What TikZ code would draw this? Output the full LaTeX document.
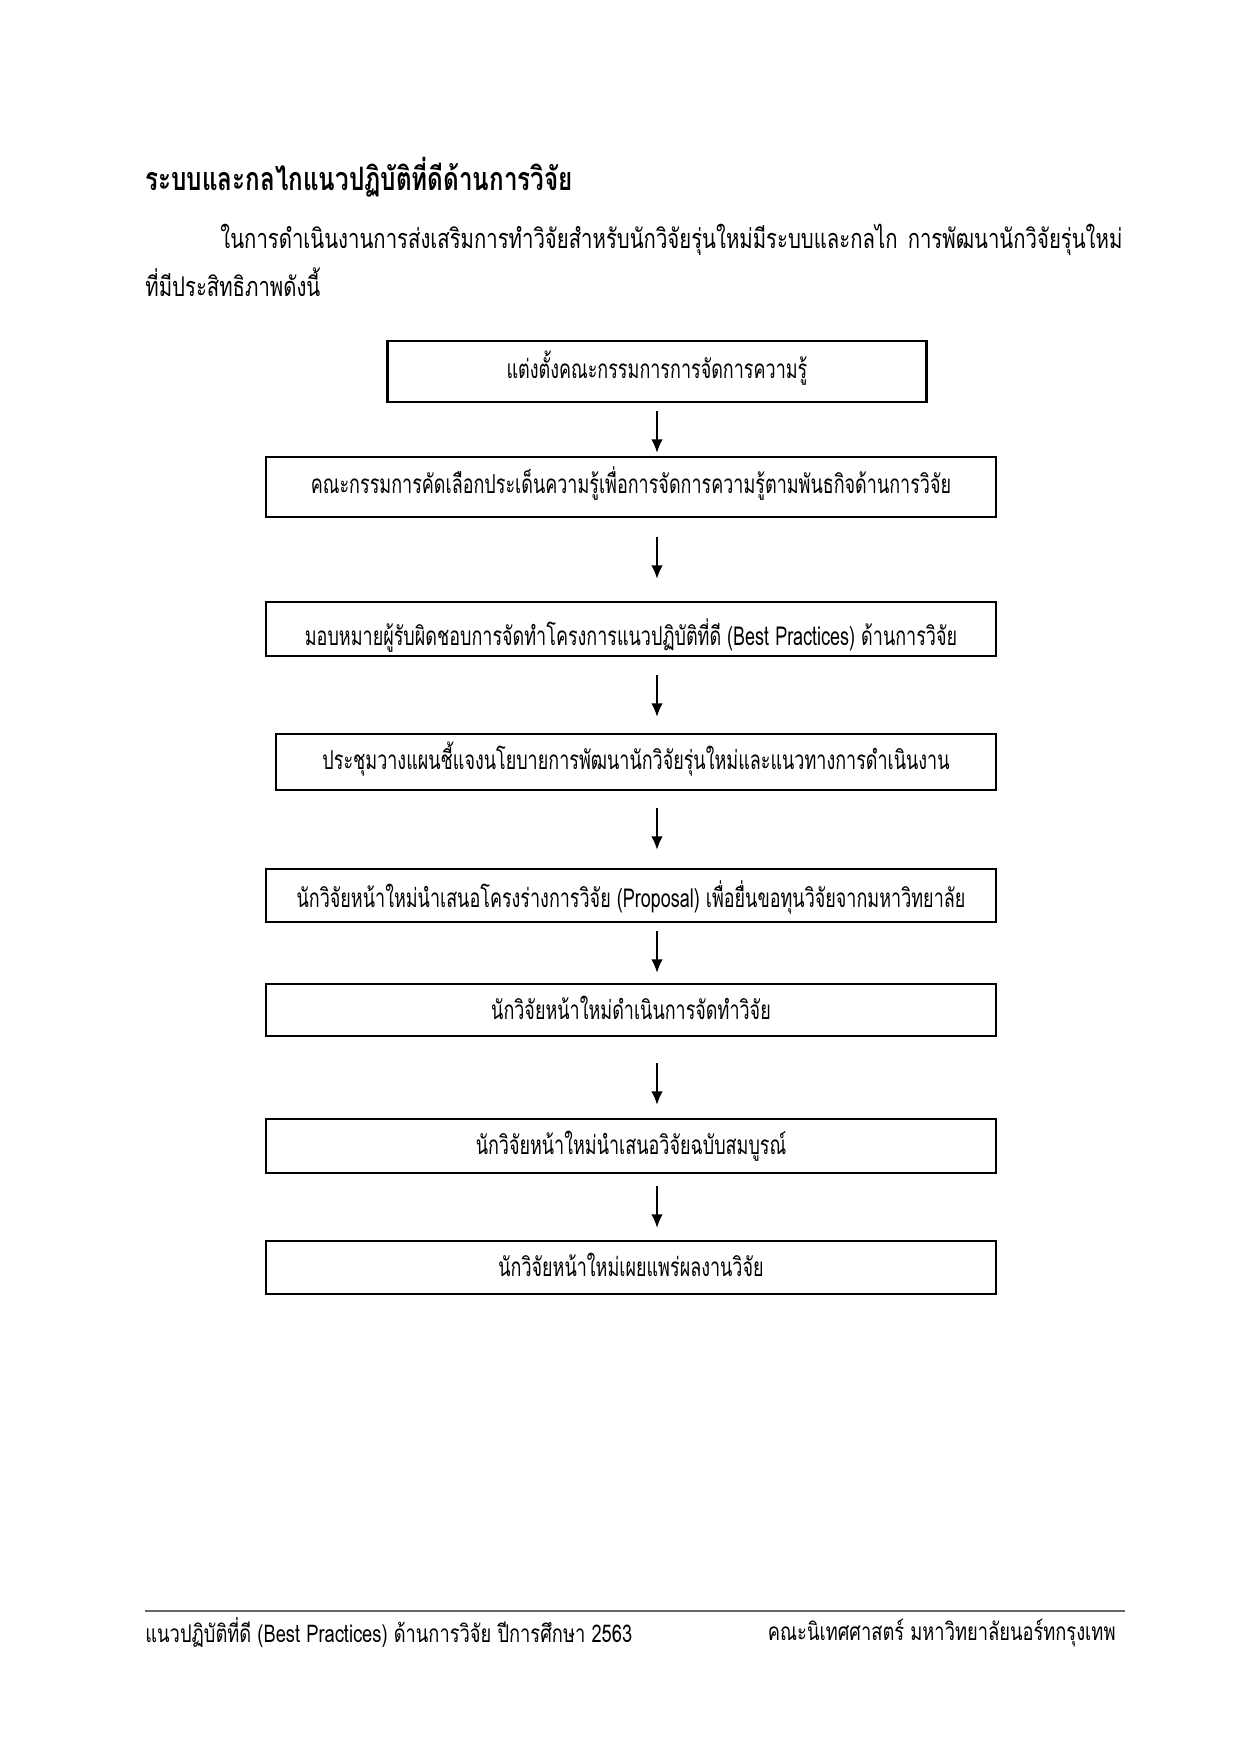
\documentclass[tikz,border=0pt]{standalone}
\usepackage{fontspec}
\newfontfamily\thaifont[Script=Thai,FakeStretch=0.75]{Loma}
\newfontfamily\thaiboxfont[Script=Thai,FakeStretch=0.69]{Loma}
\usetikzlibrary{arrows.meta, math}
\newcommand{\pxu}{0.47968pt}

\tikzset{
  stepbox/.style={draw, line width=1pt, inner sep=0pt, text height=11pt, text depth=4pt,
    minimum width=730*\pxu, font=\thaiboxfont\fontsize{12.5}{15}\selectfont},
  flowarrow/.style={-{Latex[length=6.5pt,width=5.5pt]}, line width=1pt},
}

\begin{document}
\begin{tikzpicture}[x=\pxu, y=-\pxu]
\tikzmath{
\ax=657;% arrow column
\al=42;% arrow length
}
\useasboundingbox (0,0) rectangle (1241,1755);

% heading and text
\node[anchor=west, inner sep=0pt, font=\thaifont\bfseries\fontsize{15.5}{19}\selectfont] (title) at (145,177) {ระบบและกลไกแนวปฏิบัติที่ดีด้านการวิจัย};
\node[anchor=west, inner sep=0pt, font=\thaifont\fontsize{13}{16}\selectfont] (para1) at (220,240)
  {\makebox[432.67pt][s]{ในการดำเนินงานการส่งเสริมการทำวิจัยสำหรับนักวิจัยรุ่นใหม่มีระบบและกลไก การพัฒนานักวิจัยรุ่นใหม่}};
\node[anchor=west, inner sep=0pt, font=\thaifont\fontsize{13}{16}\selectfont] (para2) at (145,282) {ที่มีประสิทธิภาพดังนี้};

% flow boxes
\node[stepbox, minimum width=539*\pxu, minimum height=61*\pxu] (b1) at (657,371.5) {แต่งตั้งคณะกรรมการการจัดการความรู้};
\node[stepbox, minimum height=60*\pxu, text height=10pt] (b2) at (631,487) {คณะกรรมการคัดเลือกประเด็นความรู้เพื่อการจัดการความรู้ตามพันธกิจด้านการวิจัย};
\node[stepbox, minimum height=54*\pxu, text height=19.5pt] (b3) at (631,629) {มอบหมายผู้รับผิดชอบการจัดทำโครงการแนวปฏิบัติที่ดี (Best Practices) ด้านการวิจัย};
\node[stepbox, minimum width=720*\pxu, minimum height=56*\pxu] (b4) at (636,762) {ประชุมวางแผนชี้แจงนโยบายการพัฒนานักวิจัยรุ่นใหม่และแนวทางการดำเนินงาน};
\node[stepbox, minimum height=53*\pxu, text height=15.5pt] (b5) at (631,895.5) {นักวิจัยหน้าใหม่นำเสนอโครงร่างการวิจัย (Proposal) เพื่อยื่นขอทุนวิจัยจากมหาวิทยาลัย};
\node[stepbox, minimum height=52*\pxu, text height=13pt] (b6) at (631,1010) {นักวิจัยหน้าใหม่ดำเนินการจัดทำวิจัย};
\node[stepbox, minimum height=54*\pxu, text height=12pt] (b7) at (631,1146) {นักวิจัยหน้าใหม่นำเสนอวิจัยฉบับสมบูรณ์};
\node[stepbox, minimum height=53*\pxu, text height=13pt] (b8) at (631,1267.5) {นักวิจัยหน้าใหม่เผยแพร่ผลงานวิจัย};

% arrows between the boxes
\foreach \y [count=\i] in {411,537,675,808,931,1063,1186}{
  \coordinate (t\i) at (\ax,\y);
  \coordinate (h\i) at (\ax,\y+\al);
  \draw[flowarrow] (t\i) -- (h\i);
}

% footer
\coordinate (rl) at (145,1611);
\coordinate (rr) at (1125,1611);
\draw[line width=0.8pt, color=black!60] (rl) -- (rr);
\node[anchor=west, inner sep=0pt, font=\thaifont\fontsize{11.7}{14}\selectfont] (footl) at (145,1633) {แนวปฏิบัติที่ดี (Best Practices) ด้านการวิจัย ปีการศึกษา 2563};
\node[anchor=east, inner sep=0pt, font=\thaifont\fontsize{11.7}{14}\selectfont] (footr) at (1116,1633) {คณะนิเทศศาสตร์ มหาวิทยาลัยนอร์ทกรุงเทพ};
\end{tikzpicture}
\end{document}
